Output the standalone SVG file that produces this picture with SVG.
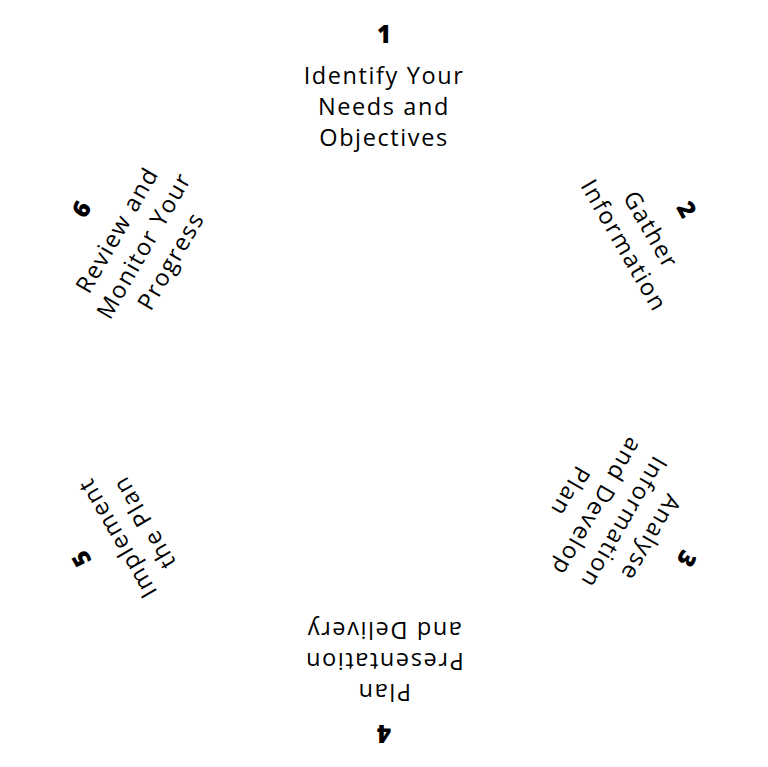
<svg xmlns="http://www.w3.org/2000/svg" width="768" height="767" viewBox="0 0 768 767">
<style>
.num{font-family:"Open Sans","DejaVu Sans",sans-serif;font-weight:800;font-size:24px;fill:#000;text-anchor:middle}
.lbl{font-family:"Open Sans","DejaVu Sans",sans-serif;font-weight:400;font-size:23.5px;letter-spacing:1.6px;fill:#000;text-anchor:middle}
</style>
<rect width="768" height="767" fill="#fff"/>
<g id="connectors"/>
<g id="node1" transform="rotate(0 384 384)">
<text class="num" x="384" y="43">1</text>
<text class="lbl" x="384" y="84">Identify Your</text>
<text class="lbl" x="384" y="115">Needs and</text>
<text class="lbl" x="384" y="146">Objectives</text>
</g>
<g id="node2" transform="rotate(60 384 384)">
<text class="num" x="384" y="43">2</text>
<text class="lbl" x="384" y="84">Gather</text>
<text class="lbl" x="384" y="115">Information</text>
</g>
<g id="node3" transform="rotate(120 384 384)">
<text class="num" x="384" y="43">3</text>
<text class="lbl" x="384" y="84">Analyse</text>
<text class="lbl" x="384" y="115">Information</text>
<text class="lbl" x="384" y="146">and Develop</text>
<text class="lbl" x="384" y="177">Plan</text>
</g>
<g id="node4" transform="rotate(180 384 384)">
<text class="num" x="384" y="43">4</text>
<text class="lbl" x="384" y="84">Plan</text>
<text class="lbl" x="384" y="115">Presentation</text>
<text class="lbl" x="384" y="146">and Delivery</text>
</g>
<g id="node5" transform="rotate(240 384 384)">
<text class="num" x="384" y="43">5</text>
<text class="lbl" x="384" y="84">Implement</text>
<text class="lbl" x="384" y="115">the Plan</text>
</g>
<g id="node6" transform="rotate(300 384 384)">
<text class="num" x="384" y="43">6</text>
<text class="lbl" x="384" y="84">Review and</text>
<text class="lbl" x="384" y="115">Monitor Your</text>
<text class="lbl" x="384" y="146">Progress</text>
</g>
</svg>
